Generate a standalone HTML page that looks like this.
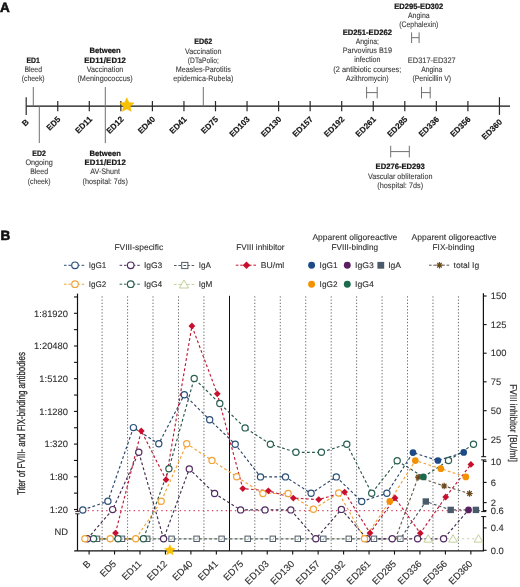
<!DOCTYPE html>
<html><head><meta charset="utf-8"><style>
html,body{margin:0;padding:0;background:#fff;}
svg{display:block;font-family:"Liberation Sans", sans-serif;text-rendering:geometricPrecision;will-change:transform;}
</style></head><body>
<svg width="520" height="587" viewBox="0 0 520 587">
<rect width="520" height="587" fill="#fff"/>
<text x="0.00" y="11.80" font-size="13.5" font-weight="bold" fill="#111" text-anchor="start" stroke="#111" stroke-width="0.6">A</text>
<line x1="26.20" y1="106.20" x2="510.00" y2="106.20" stroke="#111" stroke-width="1.3"/>
<line x1="26.20" y1="97.20" x2="26.20" y2="114.90" stroke="#2a2a2a" stroke-width="1.2"/>
<line x1="57.75" y1="101.00" x2="57.75" y2="111.30" stroke="#2a2a2a" stroke-width="1.2"/>
<line x1="89.30" y1="101.00" x2="89.30" y2="111.30" stroke="#2a2a2a" stroke-width="1.2"/>
<line x1="120.85" y1="101.00" x2="120.85" y2="111.30" stroke="#2a2a2a" stroke-width="1.2"/>
<line x1="152.40" y1="101.00" x2="152.40" y2="111.30" stroke="#2a2a2a" stroke-width="1.2"/>
<line x1="183.95" y1="101.00" x2="183.95" y2="111.30" stroke="#2a2a2a" stroke-width="1.2"/>
<line x1="215.50" y1="101.00" x2="215.50" y2="111.30" stroke="#2a2a2a" stroke-width="1.2"/>
<line x1="247.05" y1="101.00" x2="247.05" y2="111.30" stroke="#2a2a2a" stroke-width="1.2"/>
<line x1="278.60" y1="101.00" x2="278.60" y2="111.30" stroke="#2a2a2a" stroke-width="1.2"/>
<line x1="310.15" y1="101.00" x2="310.15" y2="111.30" stroke="#2a2a2a" stroke-width="1.2"/>
<line x1="341.70" y1="101.00" x2="341.70" y2="111.30" stroke="#2a2a2a" stroke-width="1.2"/>
<line x1="373.25" y1="101.00" x2="373.25" y2="111.30" stroke="#2a2a2a" stroke-width="1.2"/>
<line x1="404.80" y1="101.00" x2="404.80" y2="111.30" stroke="#2a2a2a" stroke-width="1.2"/>
<line x1="436.35" y1="101.00" x2="436.35" y2="111.30" stroke="#2a2a2a" stroke-width="1.2"/>
<line x1="467.90" y1="101.00" x2="467.90" y2="111.30" stroke="#2a2a2a" stroke-width="1.2"/>
<line x1="499.45" y1="97.20" x2="499.45" y2="114.90" stroke="#2a2a2a" stroke-width="1.2"/>
<text transform="translate(29.50,122.60) rotate(-45)" font-size="8.2" font-weight="bold" fill="#141414" stroke="#141414" stroke-width="0.15" text-anchor="end">B</text>
<text transform="translate(61.05,119.80) rotate(-45)" font-size="8.2" font-weight="bold" fill="#141414" stroke="#141414" stroke-width="0.15" text-anchor="end">ED5</text>
<text transform="translate(92.60,119.80) rotate(-45)" font-size="8.2" font-weight="bold" fill="#141414" stroke="#141414" stroke-width="0.15" text-anchor="end">ED11</text>
<text transform="translate(124.15,119.80) rotate(-45)" font-size="8.2" font-weight="bold" fill="#141414" stroke="#141414" stroke-width="0.15" text-anchor="end">ED12</text>
<text transform="translate(155.70,119.80) rotate(-45)" font-size="8.2" font-weight="bold" fill="#141414" stroke="#141414" stroke-width="0.15" text-anchor="end">ED40</text>
<text transform="translate(187.25,119.80) rotate(-45)" font-size="8.2" font-weight="bold" fill="#141414" stroke="#141414" stroke-width="0.15" text-anchor="end">ED41</text>
<text transform="translate(218.80,119.80) rotate(-45)" font-size="8.2" font-weight="bold" fill="#141414" stroke="#141414" stroke-width="0.15" text-anchor="end">ED75</text>
<text transform="translate(250.35,119.80) rotate(-45)" font-size="8.2" font-weight="bold" fill="#141414" stroke="#141414" stroke-width="0.15" text-anchor="end">ED103</text>
<text transform="translate(281.90,119.80) rotate(-45)" font-size="8.2" font-weight="bold" fill="#141414" stroke="#141414" stroke-width="0.15" text-anchor="end">ED130</text>
<text transform="translate(313.45,119.80) rotate(-45)" font-size="8.2" font-weight="bold" fill="#141414" stroke="#141414" stroke-width="0.15" text-anchor="end">ED157</text>
<text transform="translate(345.00,119.80) rotate(-45)" font-size="8.2" font-weight="bold" fill="#141414" stroke="#141414" stroke-width="0.15" text-anchor="end">ED192</text>
<text transform="translate(376.55,119.80) rotate(-45)" font-size="8.2" font-weight="bold" fill="#141414" stroke="#141414" stroke-width="0.15" text-anchor="end">ED261</text>
<text transform="translate(408.10,119.80) rotate(-45)" font-size="8.2" font-weight="bold" fill="#141414" stroke="#141414" stroke-width="0.15" text-anchor="end">ED285</text>
<text transform="translate(439.65,119.80) rotate(-45)" font-size="8.2" font-weight="bold" fill="#141414" stroke="#141414" stroke-width="0.15" text-anchor="end">ED336</text>
<text transform="translate(471.20,119.80) rotate(-45)" font-size="8.2" font-weight="bold" fill="#141414" stroke="#141414" stroke-width="0.15" text-anchor="end">ED356</text>
<text transform="translate(502.75,122.60) rotate(-45)" font-size="8.2" font-weight="bold" fill="#141414" stroke="#141414" stroke-width="0.15" text-anchor="end">ED360</text>
<line x1="33.30" y1="87.00" x2="33.30" y2="106.20" stroke="#707070" stroke-width="1"/>
<line x1="39.30" y1="106.20" x2="39.30" y2="143.00" stroke="#707070" stroke-width="1"/>
<line x1="105.30" y1="87.00" x2="105.30" y2="143.20" stroke="#707070" stroke-width="1"/>
<line x1="203.30" y1="87.00" x2="203.30" y2="106.20" stroke="#707070" stroke-width="1"/>
<line x1="366.60" y1="86.80" x2="366.60" y2="98.40" stroke="#707070" stroke-width="1"/>
<line x1="377.20" y1="86.80" x2="377.20" y2="98.40" stroke="#707070" stroke-width="1"/>
<line x1="366.60" y1="92.60" x2="377.20" y2="92.60" stroke="#707070" stroke-width="1"/>
<line x1="411.60" y1="32.40" x2="411.60" y2="43.00" stroke="#707070" stroke-width="1"/>
<line x1="419.10" y1="32.40" x2="419.10" y2="43.00" stroke="#707070" stroke-width="1"/>
<line x1="411.60" y1="37.70" x2="419.10" y2="37.70" stroke="#707070" stroke-width="1"/>
<line x1="421.50" y1="86.80" x2="421.50" y2="98.40" stroke="#707070" stroke-width="1"/>
<line x1="430.20" y1="86.80" x2="430.20" y2="98.40" stroke="#707070" stroke-width="1"/>
<line x1="421.50" y1="92.60" x2="430.20" y2="92.60" stroke="#707070" stroke-width="1"/>
<line x1="390.70" y1="145.80" x2="390.70" y2="157.40" stroke="#707070" stroke-width="1"/>
<line x1="409.30" y1="145.80" x2="409.30" y2="157.40" stroke="#707070" stroke-width="1"/>
<line x1="390.70" y1="151.60" x2="409.30" y2="151.60" stroke="#707070" stroke-width="1"/>
<path d="M126.80,97.80 L128.92,102.39 L133.93,102.98 L130.22,106.41 L131.21,111.37 L126.80,108.90 L122.39,111.37 L123.38,106.41 L119.67,102.98 L124.68,102.39 Z" fill="#f7c000" stroke="#f5b800" stroke-width="0.5"/>
<text x="33.20" y="62.60" font-size="7.8" font-weight="bold" fill="#141414" text-anchor="middle" textLength="13.4" lengthAdjust="spacingAndGlyphs" stroke="#141414" stroke-width="0.22">ED1</text>
<text x="33.20" y="71.90" font-size="8.0" font-weight="normal" fill="#3a3a3a" text-anchor="middle" textLength="17.6" lengthAdjust="spacingAndGlyphs" stroke="#3a3a3a" stroke-width="0.1">Bleed</text>
<text x="33.20" y="81.20" font-size="8.0" font-weight="normal" fill="#3a3a3a" text-anchor="middle" textLength="22.8" lengthAdjust="spacingAndGlyphs" stroke="#3a3a3a" stroke-width="0.1">(cheek)</text>
<text x="105.10" y="53.20" font-size="7.8" font-weight="bold" fill="#141414" text-anchor="middle" textLength="31.4" lengthAdjust="spacingAndGlyphs" stroke="#141414" stroke-width="0.22">Between</text>
<text x="105.10" y="62.50" font-size="7.8" font-weight="bold" fill="#141414" text-anchor="middle" textLength="41.7" lengthAdjust="spacing" stroke="#141414" stroke-width="0.22">ED11/ED12</text>
<text x="105.10" y="71.80" font-size="8.0" font-weight="normal" fill="#3a3a3a" text-anchor="middle" textLength="36.5" lengthAdjust="spacingAndGlyphs" stroke="#3a3a3a" stroke-width="0.1">Vaccination</text>
<text x="105.10" y="81.10" font-size="8.0" font-weight="normal" fill="#3a3a3a" text-anchor="middle" textLength="55.3" lengthAdjust="spacingAndGlyphs" stroke="#3a3a3a" stroke-width="0.1">(Meningococcus)</text>
<text x="203.30" y="44.20" font-size="7.8" font-weight="bold" fill="#141414" text-anchor="middle" textLength="17.9" lengthAdjust="spacingAndGlyphs" stroke="#141414" stroke-width="0.22">ED62</text>
<text x="203.30" y="53.50" font-size="8.0" font-weight="normal" fill="#3a3a3a" text-anchor="middle" textLength="36.6" lengthAdjust="spacingAndGlyphs" stroke="#3a3a3a" stroke-width="0.1">Vaccination</text>
<text x="203.30" y="62.80" font-size="8.0" font-weight="normal" fill="#3a3a3a" text-anchor="middle" textLength="30.9" lengthAdjust="spacingAndGlyphs" stroke="#3a3a3a" stroke-width="0.1">(DTaPolio;</text>
<text x="203.30" y="72.10" font-size="8.0" font-weight="normal" fill="#3a3a3a" text-anchor="middle" textLength="55.1" lengthAdjust="spacingAndGlyphs" stroke="#3a3a3a" stroke-width="0.1">Measles-Parotitis</text>
<text x="203.30" y="81.40" font-size="8.0" font-weight="normal" fill="#3a3a3a" text-anchor="middle" textLength="60.3" lengthAdjust="spacingAndGlyphs" stroke="#3a3a3a" stroke-width="0.1">epidemica-Rubela)</text>
<text x="367.30" y="34.50" font-size="7.8" font-weight="bold" fill="#141414" text-anchor="middle" textLength="49.3" lengthAdjust="spacingAndGlyphs" stroke="#141414" stroke-width="0.22">ED251-ED262</text>
<text x="367.30" y="43.83" font-size="8.0" font-weight="normal" fill="#3a3a3a" text-anchor="middle" textLength="23.2" lengthAdjust="spacingAndGlyphs" stroke="#3a3a3a" stroke-width="0.1">Angina;</text>
<text x="367.30" y="53.16" font-size="8.0" font-weight="normal" fill="#3a3a3a" text-anchor="middle" textLength="49.3" lengthAdjust="spacingAndGlyphs" stroke="#3a3a3a" stroke-width="0.1">Parvovirus B19</text>
<text x="367.30" y="62.49" font-size="8.0" font-weight="normal" fill="#3a3a3a" text-anchor="middle" textLength="26.3" lengthAdjust="spacingAndGlyphs" stroke="#3a3a3a" stroke-width="0.1">infection</text>
<text x="367.30" y="71.82" font-size="8.0" font-weight="normal" fill="#3a3a3a" text-anchor="middle" textLength="68.0" lengthAdjust="spacingAndGlyphs" stroke="#3a3a3a" stroke-width="0.1">(2 antibiotic courses;</text>
<text x="367.30" y="81.15" font-size="8.0" font-weight="normal" fill="#3a3a3a" text-anchor="middle" textLength="42.6" lengthAdjust="spacingAndGlyphs" stroke="#3a3a3a" stroke-width="0.1">Azithromycin)</text>
<text x="418.80" y="8.50" font-size="7.8" font-weight="bold" fill="#141414" text-anchor="middle" textLength="49.0" lengthAdjust="spacingAndGlyphs" stroke="#141414" stroke-width="0.22">ED295-ED302</text>
<text x="418.80" y="17.80" font-size="8.0" font-weight="normal" fill="#3a3a3a" text-anchor="middle" textLength="21.6" lengthAdjust="spacingAndGlyphs" stroke="#3a3a3a" stroke-width="0.1">Angina</text>
<text x="418.80" y="27.10" font-size="8.0" font-weight="normal" fill="#3a3a3a" text-anchor="middle" textLength="39.2" lengthAdjust="spacingAndGlyphs" stroke="#3a3a3a" stroke-width="0.1">(Cephalexin)</text>
<text x="431.80" y="62.80" font-size="8.0" font-weight="normal" fill="#3a3a3a" text-anchor="middle" textLength="47.9" lengthAdjust="spacingAndGlyphs" stroke="#3a3a3a" stroke-width="0.1">ED317-ED327</text>
<text x="431.80" y="72.10" font-size="8.0" font-weight="normal" fill="#3a3a3a" text-anchor="middle" textLength="21.1" lengthAdjust="spacingAndGlyphs" stroke="#3a3a3a" stroke-width="0.1">Angina</text>
<text x="431.80" y="81.40" font-size="8.0" font-weight="normal" fill="#3a3a3a" text-anchor="middle" textLength="38.8" lengthAdjust="spacingAndGlyphs" stroke="#3a3a3a" stroke-width="0.1">(Penicillin V)</text>
<text x="39.10" y="155.60" font-size="7.8" font-weight="bold" fill="#141414" text-anchor="middle" textLength="13.5" lengthAdjust="spacingAndGlyphs" stroke="#141414" stroke-width="0.22">ED2</text>
<text x="39.10" y="164.90" font-size="8.0" font-weight="normal" fill="#3a3a3a" text-anchor="middle" textLength="27.4" lengthAdjust="spacingAndGlyphs" stroke="#3a3a3a" stroke-width="0.1">Ongoing</text>
<text x="39.10" y="174.20" font-size="8.0" font-weight="normal" fill="#3a3a3a" text-anchor="middle" textLength="17.9" lengthAdjust="spacingAndGlyphs" stroke="#3a3a3a" stroke-width="0.1">Bleed</text>
<text x="39.10" y="183.50" font-size="8.0" font-weight="normal" fill="#3a3a3a" text-anchor="middle" textLength="22.7" lengthAdjust="spacingAndGlyphs" stroke="#3a3a3a" stroke-width="0.1">(cheek)</text>
<text x="105.20" y="155.80" font-size="7.8" font-weight="bold" fill="#141414" text-anchor="middle" textLength="31.4" lengthAdjust="spacingAndGlyphs" stroke="#141414" stroke-width="0.22">Between</text>
<text x="105.20" y="165.10" font-size="7.8" font-weight="bold" fill="#141414" text-anchor="middle" textLength="41.3" lengthAdjust="spacing" stroke="#141414" stroke-width="0.22">ED11/ED12</text>
<text x="105.20" y="174.40" font-size="8.0" font-weight="normal" fill="#3a3a3a" text-anchor="middle" textLength="29.7" lengthAdjust="spacingAndGlyphs" stroke="#3a3a3a" stroke-width="0.1">AV-Shunt</text>
<text x="105.20" y="183.70" font-size="8.0" font-weight="normal" fill="#3a3a3a" text-anchor="middle" textLength="45.4" lengthAdjust="spacingAndGlyphs" stroke="#3a3a3a" stroke-width="0.1">(hospital: 7ds)</text>
<text x="400.20" y="169.30" font-size="7.8" font-weight="bold" fill="#141414" text-anchor="middle" textLength="49.3" lengthAdjust="spacingAndGlyphs" stroke="#141414" stroke-width="0.22">ED276-ED293</text>
<text x="400.20" y="178.60" font-size="8.0" font-weight="normal" fill="#3a3a3a" text-anchor="middle" textLength="64.5" lengthAdjust="spacingAndGlyphs" stroke="#3a3a3a" stroke-width="0.1">Vascular obliteration</text>
<text x="400.20" y="187.90" font-size="8.0" font-weight="normal" fill="#3a3a3a" text-anchor="middle" textLength="45.8" lengthAdjust="spacingAndGlyphs" stroke="#3a3a3a" stroke-width="0.1">(hospital: 7ds)</text>
<text x="0.50" y="240.00" font-size="13.5" font-weight="bold" fill="#111" text-anchor="start" stroke="#111" stroke-width="0.6">B</text>
<text x="138.80" y="250.30" font-size="8.4" font-weight="normal" fill="#2e2e2e" text-anchor="middle" textLength="48.8" lengthAdjust="spacingAndGlyphs" stroke="#2e2e2e" stroke-width="0.1">FVIII-specific</text>
<text x="260.40" y="250.40" font-size="8.4" font-weight="normal" fill="#2e2e2e" text-anchor="middle" textLength="48.4" lengthAdjust="spacingAndGlyphs" stroke="#2e2e2e" stroke-width="0.1">FVIII inhibitor</text>
<text x="354.80" y="239.50" font-size="8.4" font-weight="normal" fill="#2e2e2e" text-anchor="middle" textLength="84.7" lengthAdjust="spacingAndGlyphs" stroke="#2e2e2e" stroke-width="0.1">Apparent oligoreactive</text>
<text x="354.80" y="249.80" font-size="8.4" font-weight="normal" fill="#2e2e2e" text-anchor="middle" textLength="46.5" lengthAdjust="spacingAndGlyphs" stroke="#2e2e2e" stroke-width="0.1">FVIII-binding</text>
<text x="454.00" y="239.50" font-size="8.4" font-weight="normal" fill="#2e2e2e" text-anchor="middle" textLength="85.1" lengthAdjust="spacingAndGlyphs" stroke="#2e2e2e" stroke-width="0.1">Apparent oligoreactive</text>
<text x="453.60" y="249.80" font-size="8.4" font-weight="normal" fill="#2e2e2e" text-anchor="middle" textLength="42.0" lengthAdjust="spacingAndGlyphs" stroke="#2e2e2e" stroke-width="0.1">FIX-binding</text>
<line x1="64.00" y1="265.30" x2="85.00" y2="265.30" stroke="#2c5079" stroke-width="1" stroke-dasharray="2.6 1.8"/>
<circle cx="75.00" cy="265.30" r="3.30" fill="#fff" stroke="#2c5079" stroke-width="1.2"/>
<text x="88.80" y="268.00" font-size="8.2" font-weight="normal" fill="#2e2e2e" text-anchor="start" textLength="17.6" lengthAdjust="spacingAndGlyphs" stroke="#2e2e2e" stroke-width="0.1">IgG1</text>
<line x1="64.00" y1="284.20" x2="85.00" y2="284.20" stroke="#f0a43a" stroke-width="1" stroke-dasharray="2.6 1.8"/>
<circle cx="75.00" cy="284.20" r="3.30" fill="#fff" stroke="#f0a43a" stroke-width="1.2"/>
<text x="88.80" y="287.00" font-size="8.2" font-weight="normal" fill="#2e2e2e" text-anchor="start" textLength="17.6" lengthAdjust="spacingAndGlyphs" stroke="#2e2e2e" stroke-width="0.1">IgG2</text>
<line x1="119.60" y1="265.30" x2="141.00" y2="265.30" stroke="#512c60" stroke-width="1" stroke-dasharray="2.6 1.8"/>
<circle cx="130.70" cy="265.30" r="3.30" fill="#fff" stroke="#512c60" stroke-width="1.2"/>
<text x="143.90" y="268.00" font-size="8.2" font-weight="normal" fill="#2e2e2e" text-anchor="start" textLength="18.4" lengthAdjust="spacingAndGlyphs" stroke="#2e2e2e" stroke-width="0.1">IgG3</text>
<line x1="119.60" y1="284.20" x2="141.00" y2="284.20" stroke="#2b5f51" stroke-width="1" stroke-dasharray="2.6 1.8"/>
<circle cx="130.70" cy="284.20" r="3.30" fill="#fff" stroke="#2b5f51" stroke-width="1.2"/>
<text x="143.90" y="287.00" font-size="8.2" font-weight="normal" fill="#2e2e2e" text-anchor="start" textLength="18.4" lengthAdjust="spacingAndGlyphs" stroke="#2e2e2e" stroke-width="0.1">IgG4</text>
<line x1="174.00" y1="265.50" x2="195.00" y2="265.50" stroke="#4c5966" stroke-width="1" stroke-dasharray="2.6 1.8"/>
<rect x="181.70" y="262.40" width="6.20" height="6.20" fill="#fff" stroke="#4c5966" stroke-width="1"/>
<line x1="183.40" y1="265.50" x2="186.20" y2="265.50" stroke="#4c5966" stroke-width="1"/>
<text x="198.80" y="268.00" font-size="8.2" font-weight="normal" fill="#2e2e2e" text-anchor="start" textLength="12.2" lengthAdjust="spacingAndGlyphs" stroke="#2e2e2e" stroke-width="0.1">IgA</text>
<line x1="174.00" y1="284.40" x2="195.00" y2="284.40" stroke="#c3cf9a" stroke-width="1" stroke-dasharray="2.6 1.8"/>
<path d="M184.00,280.00 L188.60,288.00 L179.40,288.00 Z" fill="#fff" stroke="#c3cf9a" stroke-width="1"/>
<text x="198.80" y="287.00" font-size="8.2" font-weight="normal" fill="#2e2e2e" text-anchor="start" textLength="13.6" lengthAdjust="spacingAndGlyphs" stroke="#2e2e2e" stroke-width="0.1">IgM</text>
<line x1="235.80" y1="265.20" x2="257.00" y2="265.20" stroke="#c8102e" stroke-width="1" stroke-dasharray="2.6 1.8"/>
<path d="M246.50,261.40 L250.30,265.20 L246.50,269.00 L242.70,265.20 Z" fill="#c8102e"/>
<text x="260.70" y="268.00" font-size="8.2" font-weight="normal" fill="#2e2e2e" text-anchor="start" textLength="23.6" lengthAdjust="spacingAndGlyphs" stroke="#2e2e2e" stroke-width="0.1">BU/ml</text>
<circle cx="311.60" cy="265.30" r="3.45" fill="#1d4a88"/>
<text x="319.60" y="268.00" font-size="8.2" font-weight="normal" fill="#2e2e2e" text-anchor="start" textLength="17.9" lengthAdjust="spacingAndGlyphs" stroke="#2e2e2e" stroke-width="0.1">IgG1</text>
<circle cx="347.30" cy="265.30" r="3.45" fill="#5a1f5e"/>
<text x="355.00" y="268.00" font-size="8.2" font-weight="normal" fill="#2e2e2e" text-anchor="start" textLength="18.8" lengthAdjust="spacingAndGlyphs" stroke="#2e2e2e" stroke-width="0.1">IgG3</text>
<rect x="377.40" y="261.90" width="6.80" height="6.80" fill="#4a5a6a"/>
<text x="388.20" y="268.00" font-size="8.2" font-weight="normal" fill="#2e2e2e" text-anchor="start" textLength="12.8" lengthAdjust="spacingAndGlyphs" stroke="#2e2e2e" stroke-width="0.1">IgA</text>
<circle cx="311.60" cy="284.20" r="3.45" fill="#f39200"/>
<text x="319.60" y="287.00" font-size="8.2" font-weight="normal" fill="#2e2e2e" text-anchor="start" textLength="17.9" lengthAdjust="spacingAndGlyphs" stroke="#2e2e2e" stroke-width="0.1">IgG2</text>
<circle cx="347.30" cy="284.20" r="3.45" fill="#1a6a4c"/>
<text x="355.00" y="287.00" font-size="8.2" font-weight="normal" fill="#2e2e2e" text-anchor="start" textLength="18.8" lengthAdjust="spacingAndGlyphs" stroke="#2e2e2e" stroke-width="0.1">IgG4</text>
<line x1="429.00" y1="265.20" x2="450.00" y2="265.20" stroke="#555" stroke-width="1" stroke-dasharray="2.6 1.8"/>
<path d="M436.30,265.20 L442.70,265.20 M437.24,262.94 L441.76,267.46 M439.50,262.00 L439.50,268.40 M441.76,262.94 L437.24,267.46" stroke="#6b4a1c" stroke-width="1.2" fill="none"/>
<circle cx="439.50" cy="265.20" r="1.6" fill="#6b4a1c"/>
<text x="453.60" y="268.00" font-size="8.2" font-weight="normal" fill="#2e2e2e" text-anchor="start" textLength="25.6" lengthAdjust="spacingAndGlyphs" stroke="#2e2e2e" stroke-width="0.1">total Ig</text>
<line x1="102.12" y1="296.30" x2="102.12" y2="550.90" stroke="#6a6a6a" stroke-width="1.0" stroke-dasharray="1.3 1.9"/>
<line x1="127.58" y1="296.30" x2="127.58" y2="550.90" stroke="#6a6a6a" stroke-width="1.0" stroke-dasharray="1.3 1.9"/>
<line x1="153.03" y1="296.30" x2="153.03" y2="550.90" stroke="#6a6a6a" stroke-width="1.0" stroke-dasharray="1.3 1.9"/>
<line x1="178.47" y1="296.30" x2="178.47" y2="550.90" stroke="#6a6a6a" stroke-width="1.0" stroke-dasharray="1.3 1.9"/>
<line x1="203.93" y1="296.30" x2="203.93" y2="550.90" stroke="#6a6a6a" stroke-width="1.0" stroke-dasharray="1.3 1.9"/>
<line x1="229.50" y1="295.80" x2="229.50" y2="550.90" stroke="#111" stroke-width="1.0"/>
<line x1="254.82" y1="296.30" x2="254.82" y2="550.90" stroke="#6a6a6a" stroke-width="1.0" stroke-dasharray="1.3 1.9"/>
<line x1="280.28" y1="296.30" x2="280.28" y2="550.90" stroke="#6a6a6a" stroke-width="1.0" stroke-dasharray="1.3 1.9"/>
<line x1="305.72" y1="296.30" x2="305.72" y2="550.90" stroke="#6a6a6a" stroke-width="1.0" stroke-dasharray="1.3 1.9"/>
<line x1="331.18" y1="296.30" x2="331.18" y2="550.90" stroke="#6a6a6a" stroke-width="1.0" stroke-dasharray="1.3 1.9"/>
<line x1="356.62" y1="296.30" x2="356.62" y2="550.90" stroke="#6a6a6a" stroke-width="1.0" stroke-dasharray="1.3 1.9"/>
<line x1="382.07" y1="296.30" x2="382.07" y2="550.90" stroke="#6a6a6a" stroke-width="1.0" stroke-dasharray="1.3 1.9"/>
<line x1="407.52" y1="296.30" x2="407.52" y2="550.90" stroke="#6a6a6a" stroke-width="1.0" stroke-dasharray="1.3 1.9"/>
<line x1="432.97" y1="296.30" x2="432.97" y2="550.90" stroke="#6a6a6a" stroke-width="1.0" stroke-dasharray="1.3 1.9"/>
<line x1="458.43" y1="296.30" x2="458.43" y2="550.90" stroke="#6a6a6a" stroke-width="1.0" stroke-dasharray="1.3 1.9"/>
<line x1="78.50" y1="510.70" x2="482.40" y2="510.70" stroke="#d04a6a" stroke-width="1.2" stroke-dasharray="1.4 3.2"/>
<line x1="77.50" y1="293.60" x2="77.50" y2="511.20" stroke="#111" stroke-width="1.2"/>
<line x1="77.50" y1="514.00" x2="77.50" y2="550.90" stroke="#111" stroke-width="1.2"/>
<line x1="75.20" y1="511.60" x2="79.60" y2="511.60" stroke="#111" stroke-width="0.9"/>
<line x1="75.20" y1="513.80" x2="79.60" y2="513.80" stroke="#111" stroke-width="0.9"/>
<line x1="74.00" y1="509.50" x2="77.50" y2="509.50" stroke="#111" stroke-width="1.1"/>
<line x1="74.00" y1="493.15" x2="77.50" y2="493.15" stroke="#111" stroke-width="1.1"/>
<line x1="74.00" y1="476.80" x2="77.50" y2="476.80" stroke="#111" stroke-width="1.1"/>
<line x1="74.00" y1="460.45" x2="77.50" y2="460.45" stroke="#111" stroke-width="1.1"/>
<line x1="74.00" y1="444.10" x2="77.50" y2="444.10" stroke="#111" stroke-width="1.1"/>
<line x1="74.00" y1="427.75" x2="77.50" y2="427.75" stroke="#111" stroke-width="1.1"/>
<line x1="74.00" y1="411.40" x2="77.50" y2="411.40" stroke="#111" stroke-width="1.1"/>
<line x1="74.00" y1="395.05" x2="77.50" y2="395.05" stroke="#111" stroke-width="1.1"/>
<line x1="74.00" y1="378.70" x2="77.50" y2="378.70" stroke="#111" stroke-width="1.1"/>
<line x1="74.00" y1="362.35" x2="77.50" y2="362.35" stroke="#111" stroke-width="1.1"/>
<line x1="74.00" y1="346.00" x2="77.50" y2="346.00" stroke="#111" stroke-width="1.1"/>
<line x1="74.00" y1="329.65" x2="77.50" y2="329.65" stroke="#111" stroke-width="1.1"/>
<line x1="74.00" y1="313.30" x2="77.50" y2="313.30" stroke="#111" stroke-width="1.1"/>
<line x1="74.00" y1="296.95" x2="77.50" y2="296.95" stroke="#111" stroke-width="1.1"/>
<text x="68.00" y="512.80" font-size="9.4" font-weight="normal" fill="#2e2e2e" text-anchor="end" stroke="#2e2e2e" stroke-width="0.1">1:20</text>
<text x="68.00" y="480.10" font-size="9.4" font-weight="normal" fill="#2e2e2e" text-anchor="end" stroke="#2e2e2e" stroke-width="0.1">1:80</text>
<text x="68.00" y="447.40" font-size="9.4" font-weight="normal" fill="#2e2e2e" text-anchor="end" stroke="#2e2e2e" stroke-width="0.1">1:320</text>
<text x="68.00" y="414.70" font-size="9.4" font-weight="normal" fill="#2e2e2e" text-anchor="end" stroke="#2e2e2e" stroke-width="0.1">1:1280</text>
<text x="68.00" y="382.00" font-size="9.4" font-weight="normal" fill="#2e2e2e" text-anchor="end" stroke="#2e2e2e" stroke-width="0.1">1:5120</text>
<text x="68.00" y="349.30" font-size="9.4" font-weight="normal" fill="#2e2e2e" text-anchor="end" stroke="#2e2e2e" stroke-width="0.1">1:20480</text>
<text x="68.00" y="316.60" font-size="9.4" font-weight="normal" fill="#2e2e2e" text-anchor="end" stroke="#2e2e2e" stroke-width="0.1">1:81920</text>
<text x="68.00" y="535.20" font-size="9.4" font-weight="normal" fill="#2e2e2e" text-anchor="end" stroke="#2e2e2e" stroke-width="0.1">ND</text>
<line x1="74.20" y1="550.90" x2="484.00" y2="550.90" stroke="#111" stroke-width="1.2"/>
<line x1="89.10" y1="550.90" x2="89.10" y2="554.60" stroke="#111" stroke-width="1.1"/>
<text transform="translate(91.40,564.40) rotate(-45)" font-size="9.6" fill="#2e2e2e" stroke="#2e2e2e" stroke-width="0.12" text-anchor="end">B</text>
<line x1="114.55" y1="550.90" x2="114.55" y2="554.60" stroke="#111" stroke-width="1.1"/>
<text transform="translate(116.85,564.40) rotate(-45)" font-size="9.6" fill="#2e2e2e" stroke="#2e2e2e" stroke-width="0.12" text-anchor="end">ED5</text>
<line x1="140.00" y1="550.90" x2="140.00" y2="554.60" stroke="#111" stroke-width="1.1"/>
<text transform="translate(142.30,564.40) rotate(-45)" font-size="9.6" fill="#2e2e2e" stroke="#2e2e2e" stroke-width="0.12" text-anchor="end">ED11</text>
<line x1="165.45" y1="550.90" x2="165.45" y2="554.60" stroke="#111" stroke-width="1.1"/>
<text transform="translate(167.75,564.40) rotate(-45)" font-size="9.6" fill="#2e2e2e" stroke="#2e2e2e" stroke-width="0.12" text-anchor="end">ED12</text>
<line x1="190.90" y1="550.90" x2="190.90" y2="554.60" stroke="#111" stroke-width="1.1"/>
<text transform="translate(193.20,564.40) rotate(-45)" font-size="9.6" fill="#2e2e2e" stroke="#2e2e2e" stroke-width="0.12" text-anchor="end">ED40</text>
<line x1="216.35" y1="550.90" x2="216.35" y2="554.60" stroke="#111" stroke-width="1.1"/>
<text transform="translate(218.65,564.40) rotate(-45)" font-size="9.6" fill="#2e2e2e" stroke="#2e2e2e" stroke-width="0.12" text-anchor="end">ED41</text>
<line x1="241.80" y1="550.90" x2="241.80" y2="554.60" stroke="#111" stroke-width="1.1"/>
<text transform="translate(244.10,564.40) rotate(-45)" font-size="9.6" fill="#2e2e2e" stroke="#2e2e2e" stroke-width="0.12" text-anchor="end">ED75</text>
<line x1="267.25" y1="550.90" x2="267.25" y2="554.60" stroke="#111" stroke-width="1.1"/>
<text transform="translate(269.55,564.40) rotate(-45)" font-size="9.6" fill="#2e2e2e" stroke="#2e2e2e" stroke-width="0.12" text-anchor="end">ED103</text>
<line x1="292.70" y1="550.90" x2="292.70" y2="554.60" stroke="#111" stroke-width="1.1"/>
<text transform="translate(295.00,564.40) rotate(-45)" font-size="9.6" fill="#2e2e2e" stroke="#2e2e2e" stroke-width="0.12" text-anchor="end">ED130</text>
<line x1="318.15" y1="550.90" x2="318.15" y2="554.60" stroke="#111" stroke-width="1.1"/>
<text transform="translate(320.45,564.40) rotate(-45)" font-size="9.6" fill="#2e2e2e" stroke="#2e2e2e" stroke-width="0.12" text-anchor="end">ED157</text>
<line x1="343.60" y1="550.90" x2="343.60" y2="554.60" stroke="#111" stroke-width="1.1"/>
<text transform="translate(345.90,564.40) rotate(-45)" font-size="9.6" fill="#2e2e2e" stroke="#2e2e2e" stroke-width="0.12" text-anchor="end">ED192</text>
<line x1="369.05" y1="550.90" x2="369.05" y2="554.60" stroke="#111" stroke-width="1.1"/>
<text transform="translate(371.35,564.40) rotate(-45)" font-size="9.6" fill="#2e2e2e" stroke="#2e2e2e" stroke-width="0.12" text-anchor="end">ED261</text>
<line x1="394.50" y1="550.90" x2="394.50" y2="554.60" stroke="#111" stroke-width="1.1"/>
<text transform="translate(396.80,564.40) rotate(-45)" font-size="9.6" fill="#2e2e2e" stroke="#2e2e2e" stroke-width="0.12" text-anchor="end">ED285</text>
<line x1="419.95" y1="550.90" x2="419.95" y2="554.60" stroke="#111" stroke-width="1.1"/>
<text transform="translate(422.25,564.40) rotate(-45)" font-size="9.6" fill="#2e2e2e" stroke="#2e2e2e" stroke-width="0.12" text-anchor="end">ED336</text>
<line x1="445.40" y1="550.90" x2="445.40" y2="554.60" stroke="#111" stroke-width="1.1"/>
<text transform="translate(447.70,564.40) rotate(-45)" font-size="9.6" fill="#2e2e2e" stroke="#2e2e2e" stroke-width="0.12" text-anchor="end">ED356</text>
<line x1="470.85" y1="550.90" x2="470.85" y2="554.60" stroke="#111" stroke-width="1.1"/>
<text transform="translate(473.15,564.40) rotate(-45)" font-size="9.6" fill="#2e2e2e" stroke="#2e2e2e" stroke-width="0.12" text-anchor="end">ED360</text>
<line x1="483.40" y1="293.30" x2="483.40" y2="456.70" stroke="#111" stroke-width="1.2"/>
<line x1="483.40" y1="459.90" x2="483.40" y2="511.60" stroke="#111" stroke-width="1.2"/>
<line x1="483.40" y1="516.60" x2="483.40" y2="550.90" stroke="#111" stroke-width="1.2"/>
<line x1="481.20" y1="456.70" x2="486.20" y2="456.70" stroke="#111" stroke-width="1.0"/>
<line x1="481.20" y1="459.90" x2="486.20" y2="459.90" stroke="#111" stroke-width="1.0"/>
<line x1="481.20" y1="511.60" x2="486.20" y2="511.60" stroke="#111" stroke-width="1.0"/>
<line x1="481.20" y1="516.60" x2="486.20" y2="516.60" stroke="#111" stroke-width="1.0"/>
<line x1="483.40" y1="296.00" x2="486.60" y2="296.00" stroke="#111" stroke-width="1.1"/>
<text x="490.80" y="299.20" font-size="9.4" font-weight="normal" fill="#2e2e2e" text-anchor="start" stroke="#2e2e2e" stroke-width="0.1">150</text>
<line x1="483.40" y1="324.60" x2="486.60" y2="324.60" stroke="#111" stroke-width="1.1"/>
<text x="490.80" y="327.80" font-size="9.4" font-weight="normal" fill="#2e2e2e" text-anchor="start" stroke="#2e2e2e" stroke-width="0.1">125</text>
<line x1="483.40" y1="353.20" x2="486.60" y2="353.20" stroke="#111" stroke-width="1.1"/>
<text x="490.80" y="356.40" font-size="9.4" font-weight="normal" fill="#2e2e2e" text-anchor="start" stroke="#2e2e2e" stroke-width="0.1">100</text>
<line x1="483.40" y1="381.80" x2="486.60" y2="381.80" stroke="#111" stroke-width="1.1"/>
<text x="490.80" y="385.00" font-size="9.4" font-weight="normal" fill="#2e2e2e" text-anchor="start" stroke="#2e2e2e" stroke-width="0.1">75</text>
<line x1="483.40" y1="410.70" x2="486.60" y2="410.70" stroke="#111" stroke-width="1.1"/>
<text x="490.80" y="413.90" font-size="9.4" font-weight="normal" fill="#2e2e2e" text-anchor="start" stroke="#2e2e2e" stroke-width="0.1">50</text>
<line x1="483.40" y1="439.30" x2="486.60" y2="439.30" stroke="#111" stroke-width="1.1"/>
<text x="490.80" y="442.50" font-size="9.4" font-weight="normal" fill="#2e2e2e" text-anchor="start" stroke="#2e2e2e" stroke-width="0.1">25</text>
<line x1="483.40" y1="461.30" x2="486.60" y2="461.30" stroke="#111" stroke-width="1.1"/>
<text x="490.80" y="464.50" font-size="9.4" font-weight="normal" fill="#2e2e2e" text-anchor="start" stroke="#2e2e2e" stroke-width="0.1">10</text>
<line x1="483.40" y1="482.40" x2="486.60" y2="482.40" stroke="#111" stroke-width="1.1"/>
<text x="490.80" y="485.60" font-size="9.4" font-weight="normal" fill="#2e2e2e" text-anchor="start" stroke="#2e2e2e" stroke-width="0.1">6</text>
<line x1="483.40" y1="502.60" x2="486.60" y2="502.60" stroke="#111" stroke-width="1.1"/>
<text x="490.80" y="505.80" font-size="9.4" font-weight="normal" fill="#2e2e2e" text-anchor="start" stroke="#2e2e2e" stroke-width="0.1">2</text>
<line x1="483.40" y1="510.60" x2="486.60" y2="510.60" stroke="#111" stroke-width="1.1"/>
<text x="490.80" y="513.80" font-size="9.4" font-weight="normal" fill="#2e2e2e" text-anchor="start" stroke="#2e2e2e" stroke-width="0.1">0.6</text>
<line x1="483.40" y1="527.90" x2="486.60" y2="527.90" stroke="#111" stroke-width="1.1"/>
<text x="490.80" y="531.10" font-size="9.4" font-weight="normal" fill="#2e2e2e" text-anchor="start" stroke="#2e2e2e" stroke-width="0.1">0.4</text>
<line x1="483.40" y1="550.30" x2="486.60" y2="550.30" stroke="#111" stroke-width="1.1"/>
<text x="490.80" y="553.50" font-size="9.4" font-weight="normal" fill="#2e2e2e" text-anchor="start" stroke="#2e2e2e" stroke-width="0.1">0.0</text>
<text transform="translate(25.4,423.6) rotate(-90)" font-size="11.2" fill="#2e2e2e" stroke="#2e2e2e" stroke-width="0.3" text-anchor="middle" textLength="143" lengthAdjust="spacingAndGlyphs">Titer of FVIII- and FIX-binding antibodies</text>
<text transform="translate(510.4,423.0) rotate(90)" font-size="10" fill="#2e2e2e" stroke="#2e2e2e" stroke-width="0.2" text-anchor="middle" textLength="77.5" lengthAdjust="spacingAndGlyphs">FVIII inhibitor [BU/ml]</text>
<path d="M99.8,538.8 L478.5,538.8" fill="none" stroke="#c9d2b4" stroke-width="1.1" stroke-dasharray="2.3 2.8"/>
<path d="M97.00,538.80 L122.00,538.80 L147.20,538.80 L171.60,538.80 L196.60,538.80 L221.60,538.80 L247.70,538.80 L272.80,538.80 L297.80,538.80 L323.30,538.80 L348.80,538.80 L374.00,538.80 L400.40,538.80 L425.80,501.50 L450.70,509.90 L475.90,509.90" fill="none" stroke="#4e5860" stroke-width="1.15" stroke-dasharray="2.8 2.3"/>
<path d="M93.50,538.80 L118.00,538.80 L143.40,538.80 L168.90,468.80 L194.20,378.50 L219.80,403.50 L245.10,427.90 L270.40,444.20 L295.90,452.30 L321.40,452.30 L346.80,444.20 L371.70,493.20 L397.20,460.80 L423.40,476.90 L448.50,460.50 L473.50,444.20" fill="none" stroke="#27574a" stroke-width="1.15" stroke-dasharray="2.8 2.3"/>
<path d="M87.40,538.80 L112.60,509.60 L138.80,452.30 L163.60,538.80 L189.30,468.90 L214.60,493.50 L240.60,509.90 L265.00,509.90 L290.80,509.90 L315.80,538.80 L341.40,509.40 L367.00,538.80 L392.20,538.80 L417.60,538.80 L443.60,538.80 L468.50,509.90" fill="none" stroke="#402a4c" stroke-width="1.15" stroke-dasharray="2.8 2.3"/>
<path d="M84.90,538.80 L110.30,538.80 L135.70,538.80 L161.20,501.30 L186.70,443.80 L212.00,460.40 L236.70,476.70 L262.90,493.50 L288.10,493.50 L313.40,509.30 L338.70,493.00 L364.50,538.80 L389.80,501.30 L415.30,460.60 L440.80,468.70 L465.80,476.90" fill="none" stroke="#f0a43a" stroke-width="1.15" stroke-dasharray="2.8 2.3"/>
<path d="M82.80,510.00 L107.90,501.30 L133.40,427.60 L158.80,443.80 L184.30,394.70 L209.70,419.80 L235.20,444.20 L260.50,476.90 L285.50,476.90 L311.10,493.30 L336.30,476.90 L361.70,501.50 L386.90,493.20 L413.00,452.60 L437.90,460.50 L463.70,452.40" fill="none" stroke="#2a4669" stroke-width="1.15" stroke-dasharray="2.8 2.3"/>
<path d="M395.50,538.80 L418.20,477.20 L444.20,486.00 L469.50,493.50" fill="none" stroke="#6a5a4a" stroke-width="1.15" stroke-dasharray="2.8 2.3"/>
<path d="M115.50,533.10 L141.30,430.90 L166.00,479.70 L191.90,326.00 L217.30,393.80 L242.80,488.60 L268.40,490.80 L293.30,498.10 L318.70,499.60 L344.60,492.10 L370.00,533.00 L395.00,498.00 L420.30,533.20 L445.70,497.00 L470.90,464.40" fill="none" stroke="#c01a36" stroke-width="1.15" stroke-dasharray="2.8 2.3"/>
<rect x="94.30" y="536.10" width="5.40" height="5.40" fill="#fff" stroke="#4c5966" stroke-width="1"/>
<path d="M95.70,539.10 L96.70,540.20 L98.40,537.30" fill="none" stroke="#9aa79a" stroke-width="0.8"/>
<rect x="119.30" y="536.10" width="5.40" height="5.40" fill="#fff" stroke="#4c5966" stroke-width="1"/>
<path d="M120.70,539.10 L121.70,540.20 L123.40,537.30" fill="none" stroke="#9aa79a" stroke-width="0.8"/>
<rect x="144.50" y="536.10" width="5.40" height="5.40" fill="#fff" stroke="#4c5966" stroke-width="1"/>
<path d="M145.90,539.10 L146.90,540.20 L148.60,537.30" fill="none" stroke="#9aa79a" stroke-width="0.8"/>
<rect x="168.90" y="536.10" width="5.40" height="5.40" fill="#fff" stroke="#4c5966" stroke-width="1"/>
<path d="M170.30,539.10 L171.30,540.20 L173.00,537.30" fill="none" stroke="#9aa79a" stroke-width="0.8"/>
<rect x="193.90" y="536.10" width="5.40" height="5.40" fill="#fff" stroke="#4c5966" stroke-width="1"/>
<path d="M195.30,539.10 L196.30,540.20 L198.00,537.30" fill="none" stroke="#9aa79a" stroke-width="0.8"/>
<rect x="218.90" y="536.10" width="5.40" height="5.40" fill="#fff" stroke="#4c5966" stroke-width="1"/>
<path d="M220.30,539.10 L221.30,540.20 L223.00,537.30" fill="none" stroke="#9aa79a" stroke-width="0.8"/>
<rect x="245.00" y="536.10" width="5.40" height="5.40" fill="#fff" stroke="#4c5966" stroke-width="1"/>
<path d="M246.40,539.10 L247.40,540.20 L249.10,537.30" fill="none" stroke="#9aa79a" stroke-width="0.8"/>
<rect x="270.10" y="536.10" width="5.40" height="5.40" fill="#fff" stroke="#4c5966" stroke-width="1"/>
<path d="M271.50,539.10 L272.50,540.20 L274.20,537.30" fill="none" stroke="#9aa79a" stroke-width="0.8"/>
<rect x="295.10" y="536.10" width="5.40" height="5.40" fill="#fff" stroke="#4c5966" stroke-width="1"/>
<path d="M296.50,539.10 L297.50,540.20 L299.20,537.30" fill="none" stroke="#9aa79a" stroke-width="0.8"/>
<rect x="320.60" y="536.10" width="5.40" height="5.40" fill="#fff" stroke="#4c5966" stroke-width="1"/>
<path d="M322.00,539.10 L323.00,540.20 L324.70,537.30" fill="none" stroke="#9aa79a" stroke-width="0.8"/>
<rect x="346.10" y="536.10" width="5.40" height="5.40" fill="#fff" stroke="#4c5966" stroke-width="1"/>
<path d="M347.50,539.10 L348.50,540.20 L350.20,537.30" fill="none" stroke="#9aa79a" stroke-width="0.8"/>
<rect x="371.30" y="536.10" width="5.40" height="5.40" fill="#fff" stroke="#4c5966" stroke-width="1"/>
<path d="M372.70,539.10 L373.70,540.20 L375.40,537.30" fill="none" stroke="#9aa79a" stroke-width="0.8"/>
<rect x="397.70" y="536.10" width="5.40" height="5.40" fill="#fff" stroke="#4c5966" stroke-width="1"/>
<path d="M399.10,539.10 L400.10,540.20 L401.80,537.30" fill="none" stroke="#9aa79a" stroke-width="0.8"/>
<rect x="422.60" y="498.30" width="6.40" height="6.40" fill="#4a5a6a"/>
<rect x="447.50" y="506.70" width="6.40" height="6.40" fill="#4a5a6a"/>
<rect x="472.70" y="506.70" width="6.40" height="6.40" fill="#4a5a6a"/>
<path d="M428.20,534.66 L432.50,542.14 L423.90,542.14 Z" fill="#fff" stroke="#c3cf9a" stroke-width="1"/>
<path d="M453.00,534.66 L457.30,542.14 L448.70,542.14 Z" fill="#fff" stroke="#c3cf9a" stroke-width="1"/>
<path d="M478.50,534.66 L482.80,542.14 L474.20,542.14 Z" fill="#fff" stroke="#c3cf9a" stroke-width="1"/>
<path d="M415.00,477.20 L421.40,477.20 M415.94,474.94 L420.46,479.46 M418.20,474.00 L418.20,480.40 M420.46,474.94 L415.94,479.46" stroke="#6b4a1c" stroke-width="1.2" fill="none"/>
<circle cx="418.20" cy="477.20" r="1.6" fill="#6b4a1c"/>
<path d="M441.00,486.00 L447.40,486.00 M441.94,483.74 L446.46,488.26 M444.20,482.80 L444.20,489.20 M446.46,483.74 L441.94,488.26" stroke="#6b4a1c" stroke-width="1.2" fill="none"/>
<circle cx="444.20" cy="486.00" r="1.6" fill="#6b4a1c"/>
<path d="M466.30,493.50 L472.70,493.50 M467.24,491.24 L471.76,495.76 M469.50,490.30 L469.50,496.70 M471.76,491.24 L467.24,495.76" stroke="#6b4a1c" stroke-width="1.2" fill="none"/>
<circle cx="469.50" cy="493.50" r="1.6" fill="#6b4a1c"/>
<circle cx="93.50" cy="538.80" r="3.10" fill="#fff" stroke="#2b5f51" stroke-width="1.2"/>
<circle cx="118.00" cy="538.80" r="3.10" fill="#fff" stroke="#2b5f51" stroke-width="1.2"/>
<circle cx="143.40" cy="538.80" r="3.10" fill="#fff" stroke="#2b5f51" stroke-width="1.2"/>
<circle cx="168.90" cy="468.80" r="3.10" fill="#fff" stroke="#2b5f51" stroke-width="1.2"/>
<circle cx="194.20" cy="378.50" r="3.10" fill="#fff" stroke="#2b5f51" stroke-width="1.2"/>
<circle cx="219.80" cy="403.50" r="3.10" fill="#fff" stroke="#2b5f51" stroke-width="1.2"/>
<circle cx="245.10" cy="427.90" r="3.10" fill="#fff" stroke="#2b5f51" stroke-width="1.2"/>
<circle cx="270.40" cy="444.20" r="3.10" fill="#fff" stroke="#2b5f51" stroke-width="1.2"/>
<circle cx="295.90" cy="452.30" r="3.10" fill="#fff" stroke="#2b5f51" stroke-width="1.2"/>
<circle cx="321.40" cy="452.30" r="3.10" fill="#fff" stroke="#2b5f51" stroke-width="1.2"/>
<circle cx="346.80" cy="444.20" r="3.10" fill="#fff" stroke="#2b5f51" stroke-width="1.2"/>
<circle cx="371.70" cy="493.20" r="3.10" fill="#fff" stroke="#2b5f51" stroke-width="1.2"/>
<circle cx="397.20" cy="460.80" r="3.10" fill="#fff" stroke="#2b5f51" stroke-width="1.2"/>
<circle cx="423.40" cy="476.90" r="3.35" fill="#1a6a4c"/>
<circle cx="448.50" cy="460.50" r="3.10" fill="#fff" stroke="#2b5f51" stroke-width="1.2"/>
<circle cx="473.50" cy="444.20" r="3.10" fill="#fff" stroke="#2b5f51" stroke-width="1.2"/>
<circle cx="87.40" cy="538.80" r="3.10" fill="#fff" stroke="#512c60" stroke-width="1.2"/>
<circle cx="112.60" cy="509.60" r="3.10" fill="#fff" stroke="#512c60" stroke-width="1.2"/>
<circle cx="138.80" cy="452.30" r="3.10" fill="#fff" stroke="#512c60" stroke-width="1.2"/>
<circle cx="163.60" cy="538.80" r="3.10" fill="#fff" stroke="#512c60" stroke-width="1.2"/>
<circle cx="189.30" cy="468.90" r="3.10" fill="#fff" stroke="#512c60" stroke-width="1.2"/>
<circle cx="214.60" cy="493.50" r="3.10" fill="#fff" stroke="#512c60" stroke-width="1.2"/>
<circle cx="240.60" cy="509.90" r="3.10" fill="#fff" stroke="#512c60" stroke-width="1.2"/>
<circle cx="265.00" cy="509.90" r="3.10" fill="#fff" stroke="#512c60" stroke-width="1.2"/>
<circle cx="290.80" cy="509.90" r="3.10" fill="#fff" stroke="#512c60" stroke-width="1.2"/>
<circle cx="315.80" cy="538.80" r="3.10" fill="#fff" stroke="#512c60" stroke-width="1.2"/>
<circle cx="341.40" cy="509.40" r="3.10" fill="#fff" stroke="#512c60" stroke-width="1.2"/>
<circle cx="367.00" cy="538.80" r="3.10" fill="#fff" stroke="#512c60" stroke-width="1.2"/>
<circle cx="392.20" cy="538.80" r="3.10" fill="#fff" stroke="#512c60" stroke-width="1.2"/>
<circle cx="417.60" cy="538.80" r="3.10" fill="#fff" stroke="#512c60" stroke-width="1.2"/>
<circle cx="443.60" cy="538.80" r="3.10" fill="#fff" stroke="#512c60" stroke-width="1.2"/>
<circle cx="468.50" cy="509.90" r="3.35" fill="#5a1f5e"/>
<circle cx="84.90" cy="538.80" r="3.10" fill="#fff" stroke="#f0a43a" stroke-width="1.2"/>
<circle cx="110.30" cy="538.80" r="3.10" fill="#fff" stroke="#f0a43a" stroke-width="1.2"/>
<circle cx="135.70" cy="538.80" r="3.10" fill="#fff" stroke="#f0a43a" stroke-width="1.2"/>
<circle cx="161.20" cy="501.30" r="3.10" fill="#fff" stroke="#f0a43a" stroke-width="1.2"/>
<circle cx="186.70" cy="443.80" r="3.10" fill="#fff" stroke="#f0a43a" stroke-width="1.2"/>
<circle cx="212.00" cy="460.40" r="3.10" fill="#fff" stroke="#f0a43a" stroke-width="1.2"/>
<circle cx="236.70" cy="476.70" r="3.10" fill="#fff" stroke="#f0a43a" stroke-width="1.2"/>
<circle cx="262.90" cy="493.50" r="3.10" fill="#fff" stroke="#f0a43a" stroke-width="1.2"/>
<circle cx="288.10" cy="493.50" r="3.10" fill="#fff" stroke="#f0a43a" stroke-width="1.2"/>
<circle cx="313.40" cy="509.30" r="3.10" fill="#fff" stroke="#f0a43a" stroke-width="1.2"/>
<circle cx="338.70" cy="493.00" r="3.10" fill="#fff" stroke="#f0a43a" stroke-width="1.2"/>
<circle cx="364.50" cy="538.80" r="3.10" fill="#fff" stroke="#f0a43a" stroke-width="1.2"/>
<circle cx="389.80" cy="501.30" r="3.35" fill="#f39200"/>
<circle cx="415.30" cy="460.60" r="3.35" fill="#f39200"/>
<circle cx="440.80" cy="468.70" r="3.35" fill="#f39200"/>
<circle cx="465.80" cy="476.90" r="3.35" fill="#f39200"/>
<circle cx="82.80" cy="510.00" r="3.10" fill="#fff" stroke="#2c5079" stroke-width="1.2"/>
<circle cx="107.90" cy="501.30" r="3.10" fill="#fff" stroke="#2c5079" stroke-width="1.2"/>
<circle cx="133.40" cy="427.60" r="3.10" fill="#fff" stroke="#2c5079" stroke-width="1.2"/>
<circle cx="158.80" cy="443.80" r="3.10" fill="#fff" stroke="#2c5079" stroke-width="1.2"/>
<circle cx="184.30" cy="394.70" r="3.10" fill="#fff" stroke="#2c5079" stroke-width="1.2"/>
<circle cx="209.70" cy="419.80" r="3.10" fill="#fff" stroke="#2c5079" stroke-width="1.2"/>
<circle cx="235.20" cy="444.20" r="3.10" fill="#fff" stroke="#2c5079" stroke-width="1.2"/>
<circle cx="260.50" cy="476.90" r="3.10" fill="#fff" stroke="#2c5079" stroke-width="1.2"/>
<circle cx="285.50" cy="476.90" r="3.10" fill="#fff" stroke="#2c5079" stroke-width="1.2"/>
<circle cx="311.10" cy="493.30" r="3.10" fill="#fff" stroke="#2c5079" stroke-width="1.2"/>
<circle cx="336.30" cy="476.90" r="3.10" fill="#fff" stroke="#2c5079" stroke-width="1.2"/>
<circle cx="361.70" cy="501.50" r="3.10" fill="#fff" stroke="#2c5079" stroke-width="1.2"/>
<circle cx="386.90" cy="493.20" r="3.10" fill="#fff" stroke="#2c5079" stroke-width="1.2"/>
<circle cx="413.00" cy="452.60" r="3.35" fill="#1d4a88"/>
<circle cx="437.90" cy="460.50" r="3.35" fill="#1d4a88"/>
<circle cx="463.70" cy="452.40" r="3.35" fill="#1d4a88"/>
<path d="M115.50,529.70 L118.90,533.10 L115.50,536.50 L112.10,533.10 Z" fill="#c8102e"/>
<path d="M141.30,427.50 L144.70,430.90 L141.30,434.30 L137.90,430.90 Z" fill="#c8102e"/>
<path d="M166.00,476.30 L169.40,479.70 L166.00,483.10 L162.60,479.70 Z" fill="#c8102e"/>
<path d="M191.90,322.60 L195.30,326.00 L191.90,329.40 L188.50,326.00 Z" fill="#c8102e"/>
<path d="M217.30,390.40 L220.70,393.80 L217.30,397.20 L213.90,393.80 Z" fill="#c8102e"/>
<path d="M242.80,485.20 L246.20,488.60 L242.80,492.00 L239.40,488.60 Z" fill="#c8102e"/>
<path d="M268.40,487.40 L271.80,490.80 L268.40,494.20 L265.00,490.80 Z" fill="#c8102e"/>
<path d="M293.30,494.70 L296.70,498.10 L293.30,501.50 L289.90,498.10 Z" fill="#c8102e"/>
<path d="M318.70,496.20 L322.10,499.60 L318.70,503.00 L315.30,499.60 Z" fill="#c8102e"/>
<path d="M344.60,488.70 L348.00,492.10 L344.60,495.50 L341.20,492.10 Z" fill="#c8102e"/>
<path d="M370.00,529.60 L373.40,533.00 L370.00,536.40 L366.60,533.00 Z" fill="#c8102e"/>
<path d="M395.00,494.60 L398.40,498.00 L395.00,501.40 L391.60,498.00 Z" fill="#c8102e"/>
<path d="M420.30,529.80 L423.70,533.20 L420.30,536.60 L416.90,533.20 Z" fill="#c8102e"/>
<path d="M445.70,493.60 L449.10,497.00 L445.70,500.40 L442.30,497.00 Z" fill="#c8102e"/>
<path d="M470.90,461.00 L474.30,464.40 L470.90,467.80 L467.50,464.40 Z" fill="#c8102e"/>
<path d="M169.90,544.60 L171.49,548.02 L175.23,548.47 L172.47,551.03 L173.19,554.73 L169.90,552.90 L166.61,554.73 L167.33,551.03 L164.57,548.47 L168.31,548.02 Z" fill="#f7c000" stroke="#f5b800" stroke-width="0.4"/>
</svg>
</body></html>
